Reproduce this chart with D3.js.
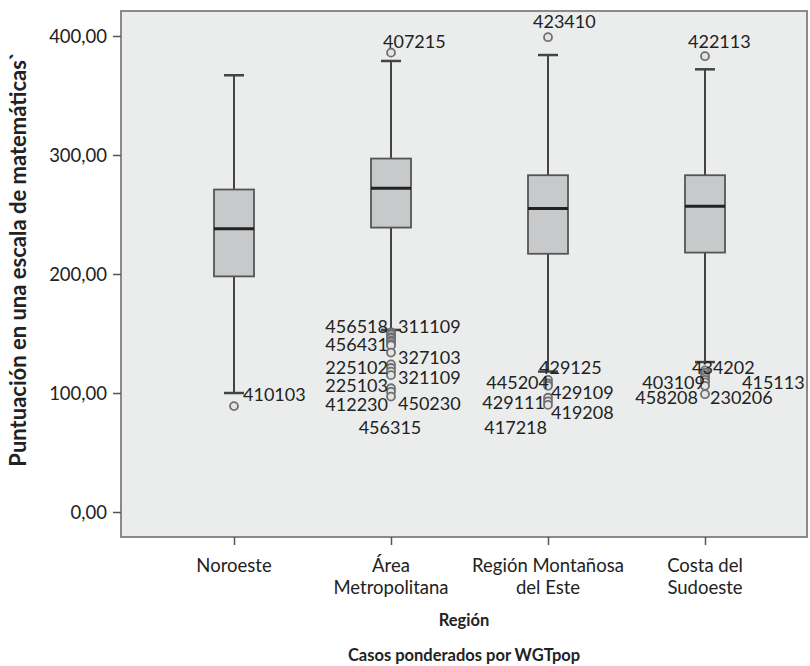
<!DOCTYPE html>
<html>
<head>
<meta charset="utf-8">
<script src="https://cdn.jsdelivr.net/npm/d3@7"></script>
<style>
	body { margin: 0; background: #fff; }
	svg text { font-family: Lato, "Open Sans", sans-serif; fill: #222; }
</style>
</head>
<body>
<div id="chart"></div>
<script>
// data
const categories = ['Noroeste', 'Área Metropolitana', 'Región Montañosa del Este', 'Costa del Sudoeste'];
const categoryLines = [['Noroeste'], ['Área', 'Metropolitana'], ['Región Montañosa', 'del Este'], ['Costa del', 'Sudoeste']];
const lowWhisker = [100, 153, 118, 126];
const q1 = [198, 239, 217, 218];
const median = [238, 272, 255, 257];
const q3 = [271, 297, 283, 283];
const highWhisker = [367, 379, 384, 372];
const outliers = [
	[89],
	[386, 151, 150, 149, 147, 146, 144, 143, 141, 140, 134, 124, 121, 118, 115, 104, 101, 97],
	[399, 111, 108, 106, 96, 93, 90],
	[383, 119, 117, 115, 113, 111, 109, 106, 99]
];
// outlier case ids and the level they are printed at
const outlierLabels = [
	[['410103', 99]],
	[['407215', 395], ['456518', 155.5], ['311109', 155.5], ['456431', 141], ['327103', 130],
	 ['225102', 121], ['321109', 113.4], ['225103', 106.7], ['412230', 90], ['450230', 90.8], ['456315', 70.6]],
	[['423410', 412], ['429125', 121], ['445204', 109], ['429109', 100], ['429111', 91.6],
	 ['419208', 83.2], ['417218', 70.6]],
	[['422113', 395], ['434202', 121], ['403109', 109], ['415113', 109], ['458208', 96.6], ['230206', 96.6]]
];
const yTicks = [0, 100, 200, 300, 400];

// label placement: [dx from box centre, anchor]
const labelLayout = [
	[[9, 'start']],
	[[-8, 'start'], [-3, 'end'], [7, 'start'], [-3, 'end'], [7, 'start'], [-3, 'end'], [7, 'start'],
	 [-3, 'end'], [-3, 'end'], [7, 'start'], [-1, 'middle']],
	[[-15, 'start'], [-9, 'start'], [1, 'end'], [3, 'start'], [-3, 'end'], [3, 'start'], [-1, 'end']],
	[[-17, 'start'], [-13, 'start'], [0, 'end'], [37, 'start'], [-7, 'end'], [5, 'start']]
];

const width = 810, height = 666;
const margin = { top: 11, right: 3, bottom: 129, left: 121 };
const plotW = width - margin.left - margin.right;
const plotH = height - margin.top - margin.bottom;
const boxW = 40, capW = 20;

const svg = d3.select('#chart').append('svg')
	.attr('width', width)
	.attr('height', height);

const y = d3.scaleLinear().domain([-21, 421]).range([plotH, 0]);
const x = d3.scalePoint().domain(categories).range([113, 584]);

const g = svg.append('g')
	.attr('transform', `translate(${margin.left},${margin.top})`);

g.append('rect')
	.attr('width', plotW)
	.attr('height', plotH)
	.attr('fill', '#ebedec')
	.attr('stroke', '#8a8a8a')
	.attr('stroke-width', 2);

// y axis
const yAxis = g.append('g')
	.call(d3.axisLeft(y).tickValues(yTicks).tickSize(8).tickFormat(d => d3.format('.2f')(d).replace('.', ',')));
yAxis.select('.domain').remove();
yAxis.selectAll('.tick line').attr('stroke', '#555').attr('stroke-width', 1.5);
yAxis.selectAll('.tick text').attr('font-size', 18.5).attr('x', -14).attr('dy', '0.34em');

// x axis
const xAxis = g.append('g')
	.attr('transform', `translate(0,${plotH})`)
	.call(d3.axisBottom(x).tickSize(8).tickFormat(''));
xAxis.select('.domain').remove();
xAxis.selectAll('.tick line').attr('stroke', '#555').attr('stroke-width', 1.5);

categories.forEach((c, i) => {
	const t = g.append('text')
		.attr('x', x(c))
		.attr('y', plotH + 35)
		.attr('text-anchor', 'middle')
		.attr('font-size', 18.5);
	categoryLines[i].forEach((line, j) => {
		t.append('tspan').attr('x', x(c)).attr('dy', j ? 22 : 0).text(line);
	});
});

// boxes
categories.forEach((c, i) => {
	const cx = x(c);
	const box = g.append('g');
	box.append('line')
		.attr('x1', cx).attr('x2', cx)
		.attr('y1', y(highWhisker[i])).attr('y2', y(q3[i]))
		.attr('stroke', '#444').attr('stroke-width', 2);
	box.append('line')
		.attr('x1', cx).attr('x2', cx)
		.attr('y1', y(lowWhisker[i])).attr('y2', y(q1[i]))
		.attr('stroke', '#444').attr('stroke-width', 2);
	[highWhisker[i], lowWhisker[i]].forEach(v => {
		box.append('line')
			.attr('x1', cx - capW / 2).attr('x2', cx + capW / 2)
			.attr('y1', y(v)).attr('y2', y(v))
			.attr('stroke', '#444').attr('stroke-width', 2.5);
	});
	box.append('rect')
		.attr('x', cx - boxW / 2)
		.attr('y', y(q3[i]))
		.attr('width', boxW)
		.attr('height', y(q1[i]) - y(q3[i]))
		.attr('fill', '#c7c9cb')
		.attr('stroke', '#555')
		.attr('stroke-width', 1.8);
	box.append('line')
		.attr('x1', cx - boxW / 2).attr('x2', cx + boxW / 2)
		.attr('y1', y(median[i])).attr('y2', y(median[i]))
		.attr('stroke', '#222').attr('stroke-width', 3);

	box.selectAll('circle')
		.data(outliers[i])
		.enter()
		.append('circle')
		.attr('cx', cx)
		.attr('cy', d => y(d))
		.attr('r', 4)
		.attr('fill', '#e4e4e4')
		.attr('stroke', '#6f6f6f')
		.attr('stroke-width', 1.8);

	outlierLabels[i].forEach(([id, level], k) => {
		const [dx, anchor] = labelLayout[i][k];
		g.append('text')
			.attr('x', cx + dx)
			.attr('y', y(level))
			.attr('dy', '0.36em')
			.attr('text-anchor', anchor)
			.attr('font-size', 18)
			.text(id);
	});
});

// titles
svg.append('text')
	.attr('transform', `translate(26,259) rotate(-90)`)
	.attr('text-anchor', 'middle')
	.attr('font-size', 22)
	.attr('font-weight', 'bold')
	.text('Puntuación en una escala de matemáticas`');

svg.append('text')
	.attr('x', margin.left + plotW / 2)
	.attr('y', 626)
	.attr('text-anchor', 'middle')
	.attr('font-size', 16.5)
	.attr('font-weight', 'bold')
	.text('Región');

svg.append('text')
	.attr('x', margin.left + plotW / 2)
	.attr('y', 661)
	.attr('text-anchor', 'middle')
	.attr('font-size', 16.5)
	.attr('font-weight', 'bold')
	.text('Casos ponderados por WGTpop');
</script>
</body>
</html>
